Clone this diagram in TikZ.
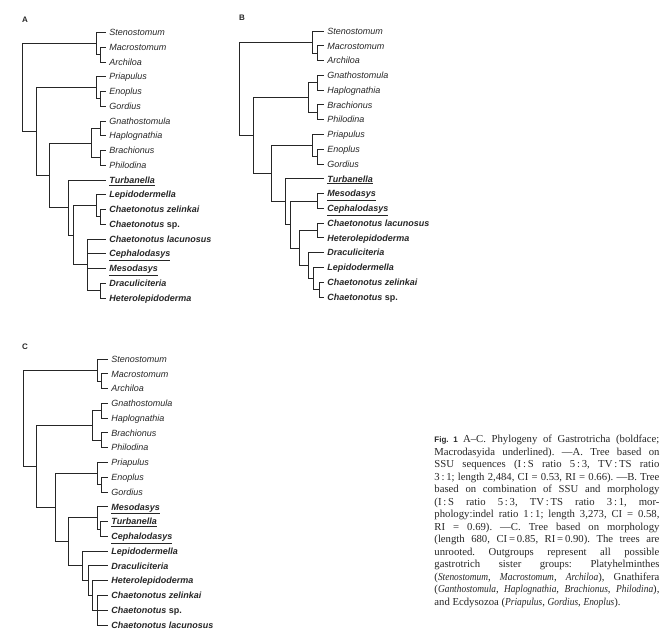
\documentclass[tikz,border=0pt]{standalone}
\usepackage{fontspec}
\setmainfont{Liberation Serif}
\setsansfont{Liberation Sans}
\newfontfamily\capitfont{Liberation Serif}[FakeStretch=0.88]
\usepackage{tikz}
\usetikzlibrary{positioning,calc}

\newcommand{\outg}[1]{\textit{#1}}
\newcommand{\gast}[1]{\textbf{\textit{#1}}}
\newcommand{\macr}[1]{\underline{\textbf{\textit{#1}}}}
\newcommand{\capit}[1]{{\capitfont\itshape #1}}

\begin{document}
\begin{tikzpicture}[x=1pt, y=-1pt,
    leaf/.style={anchor=west, inner xsep=3pt, inner ysep=0pt, text height=6.5pt, text depth=0pt,
                 font=\sffamily\fontsize{9}{10}\selectfont},
    panel/.style={font=\sffamily\bfseries\fontsize{8}{10}\selectfont, inner sep=0pt},
    every path/.style={line width=0.9pt, black!85}]
    \useasboundingbox (0,0) rectangle (661,644);

    % Tree A
    \node[panel] (la) at (25,20) {A};
    \node[leaf] (a1) at (106,32.5) {\outg{Stenostomum}};
    \node[leaf] (a2) at (106,47.25) {\outg{Macrostomum}};
    \node[leaf] (a3) at (106,62) {\outg{Archiloa}};
    \node[leaf] (a4) at (106,76.75) {\outg{Priapulus}};
    \node[leaf] (a5) at (106,91.5) {\outg{Enoplus}};
    \node[leaf] (a6) at (106,106.25) {\outg{Gordius}};
    \node[leaf] (a7) at (106,121) {\outg{Gnathostomula}};
    \node[leaf] (a8) at (106,135.75) {\outg{Haplognathia}};
    \node[leaf] (a9) at (106,150.5) {\outg{Brachionus}};
    \node[leaf] (a10) at (106,165.25) {\outg{Philodina}};
    \node[leaf] (a11) at (106,180) {\macr{Turbanella}};
    \node[leaf] (a12) at (106,194.75) {\gast{Lepidodermella}};
    \node[leaf] (a13) at (106,209.5) {\gast{Chaetonotus zelinkai}};
    \node[leaf] (a14) at (106,224.25) {\gast{Chaetonotus} \textbf{sp.}};
    \node[leaf] (a15) at (106,239) {\gast{Chaetonotus lacunosus}};
    \node[leaf] (a16) at (106,253.75) {\macr{Cephalodasys}};
    \node[leaf] (a17) at (106,268.5) {\macr{Mesodasys}};
    \node[leaf] (a18) at (106,283.25) {\gast{Draculiciteria}};
    \node[leaf] (a19) at (106,298) {\gast{Heterolepidoderma}};

    \coordinate (aMA) at (100,54.6);
    \coordinate (aPL) at (96,43.6);
    \coordinate (aEG) at (100,98.9);
    \coordinate (aEC) at (96,87.8);
    \coordinate (aGH) at (100,128.4);
    \coordinate (aBP) at (100,157.9);
    \coordinate (aGN) at (91,143.1);
    \coordinate (aCC) at (100,216.9);
    \coordinate (aLC) at (96,205.8);
    \coordinate (aDH) at (100,290.6);
    \coordinate (aPO) at (87,264.8);
    \coordinate (aCH) at (73,235.3);
    \coordinate (aGA) at (68,207.6);
    \coordinate (aGG) at (49,175.4);
    \coordinate (aEX) at (36,131.6);
    \coordinate (aRT) at (22,87.6);

    \draw (aRT) |- (aPL) (aRT) |- (aEX);
    \draw (aPL) |- (a1.west) (aPL) |- (aMA);
    \draw (aMA) |- (a2.west) (aMA) |- (a3.west);
    \draw (aEX) |- (aEC) (aEX) |- (aGG);
    \draw (aEC) |- (a4.west) (aEC) |- (aEG);
    \draw (aEG) |- (a5.west) (aEG) |- (a6.west);
    \draw (aGG) |- (aGN) (aGG) |- (aGA);
    \draw (aGN) |- (aGH) (aGN) |- (aBP);
    \draw (aGH) |- (a7.west) (aGH) |- (a8.west);
    \draw (aBP) |- (a9.west) (aBP) |- (a10.west);
    \draw (aGA) |- (a11.west) (aGA) |- (aCH);
    \draw (aCH) |- (aLC) (aCH) |- (aPO);
    \draw (aLC) |- (a12.west) (aLC) |- (aCC);
    \draw (aCC) |- (a13.west) (aCC) |- (a14.west);
    \draw (aPO) |- (a15.west) (aPO) |- (a16.west) (aPO) |- (a17.west) (aPO) |- (aDH);
    \draw (aDH) |- (a18.west) (aDH) |- (a19.west);

    % Tree B
    \node[panel] (lb) at (242,18) {B};
    \node[leaf] (b1) at (324,31) {\outg{Stenostomum}};
    \node[leaf] (b2) at (324,45.8) {\outg{Macrostomum}};
    \node[leaf] (b3) at (324,60.6) {\outg{Archiloa}};
    \node[leaf] (b4) at (324,75.3) {\outg{Gnathostomula}};
    \node[leaf] (b5) at (324,90.1) {\outg{Haplognathia}};
    \node[leaf] (b6) at (324,104.9) {\outg{Brachionus}};
    \node[leaf] (b7) at (324,119.7) {\outg{Philodina}};
    \node[leaf] (b8) at (324,134.5) {\outg{Priapulus}};
    \node[leaf] (b9) at (324,149.2) {\outg{Enoplus}};
    \node[leaf] (b10) at (324,164) {\outg{Gordius}};
    \node[leaf] (b11) at (324,178.8) {\macr{Turbanella}};
    \node[leaf] (b12) at (324,193.6) {\macr{Mesodasys}};
    \node[leaf] (b13) at (324,208.4) {\macr{Cephalodasys}};
    \node[leaf] (b14) at (324,223.1) {\gast{Chaetonotus lacunosus}};
    \node[leaf] (b15) at (324,237.9) {\gast{Heterolepidoderma}};
    \node[leaf] (b16) at (324,252.7) {\gast{Draculiciteria}};
    \node[leaf] (b17) at (324,267.5) {\gast{Lepidodermella}};
    \node[leaf] (b18) at (324,282.2) {\gast{Chaetonotus zelinkai}};
    \node[leaf] (b19) at (324,297) {\gast{Chaetonotus} \textbf{sp.}};

    \coordinate (bMA) at (317,53.2);
    \coordinate (bPL) at (312,42.1);
    \coordinate (bGH) at (317,82.7);
    \coordinate (bBP) at (317,112.3);
    \coordinate (bGN) at (308,97.5);
    \coordinate (bEG) at (317,156.6);
    \coordinate (bEC) at (312,145.6);
    \coordinate (bMC) at (317,201);
    \coordinate (bCH) at (317,230.5);
    \coordinate (bCZ) at (319,289.6);
    \coordinate (bLZ) at (313,278.6);
    \coordinate (bDL) at (308,265.6);
    \coordinate (bCD) at (299,248.1);
    \coordinate (bCL) at (290,224.6);
    \coordinate (bGA) at (285,201.7);
    \coordinate (bEX) at (271,173.6);
    \coordinate (bGE) at (253,135.6);
    \coordinate (bRT) at (239,88.8);

    \draw (bRT) |- (bPL) (bRT) |- (bGE);
    \draw (bPL) |- (b1.west) (bPL) |- (bMA);
    \draw (bMA) |- (b2.west) (bMA) |- (b3.west);
    \draw (bGE) |- (bGN) (bGE) |- (bEX);
    \draw (bGN) |- (bGH) (bGN) |- (bBP);
    \draw (bGH) |- (b4.west) (bGH) |- (b5.west);
    \draw (bBP) |- (b6.west) (bBP) |- (b7.west);
    \draw (bEX) |- (bEC) (bEX) |- (bGA);
    \draw (bEC) |- (b8.west) (bEC) |- (bEG);
    \draw (bEG) |- (b9.west) (bEG) |- (b10.west);
    \draw (bGA) |- (b11.west) (bGA) |- (bCL);
    \draw (bCL) |- (bMC) (bCL) |- (bCD);
    \draw (bMC) |- (b12.west) (bMC) |- (b13.west);
    \draw (bCD) |- (bCH) (bCD) |- (bDL);
    \draw (bCH) |- (b14.west) (bCH) |- (b15.west);
    \draw (bDL) |- (b16.west) (bDL) |- (bLZ);
    \draw (bLZ) |- (b17.west) (bLZ) |- (bCZ);
    \draw (bCZ) |- (b18.west) (bCZ) |- (b19.west);

    % Tree C
    \node[panel] (lc) at (25,347) {C};
    \node[leaf] (c1) at (108,359) {\outg{Stenostomum}};
    \node[leaf] (c2) at (108,373.8) {\outg{Macrostomum}};
    \node[leaf] (c3) at (108,388.6) {\outg{Archiloa}};
    \node[leaf] (c4) at (108,403.3) {\outg{Gnathostomula}};
    \node[leaf] (c5) at (108,418.1) {\outg{Haplognathia}};
    \node[leaf] (c6) at (108,432.9) {\outg{Brachionus}};
    \node[leaf] (c7) at (108,447.7) {\outg{Philodina}};
    \node[leaf] (c8) at (108,462.5) {\outg{Priapulus}};
    \node[leaf] (c9) at (108,477.2) {\outg{Enoplus}};
    \node[leaf] (c10) at (108,492) {\outg{Gordius}};
    \node[leaf] (c11) at (108,506.8) {\macr{Mesodasys}};
    \node[leaf] (c12) at (108,521.6) {\macr{Turbanella}};
    \node[leaf] (c13) at (108,536.4) {\macr{Cephalodasys}};
    \node[leaf] (c14) at (108,551.1) {\gast{Lepidodermella}};
    \node[leaf] (c15) at (108,565.9) {\gast{Draculiciteria}};
    \node[leaf] (c16) at (108,580.7) {\gast{Heterolepidoderma}};
    \node[leaf] (c17) at (108,595.5) {\gast{Chaetonotus zelinkai}};
    \node[leaf] (c18) at (108,610.3) {\gast{Chaetonotus} \textbf{sp.}};
    \node[leaf] (c19) at (108,625) {\gast{Chaetonotus lacunosus}};

    \coordinate (cMA) at (101,381.2);
    \coordinate (cPL) at (97,370.1);
    \coordinate (cGH) at (101,410.7);
    \coordinate (cBP) at (101,440.3);
    \coordinate (cGN) at (92,425.5);
    \coordinate (cEG) at (101,484.6);
    \coordinate (cEC) at (97,473.6);
    \coordinate (cTC) at (100,529);
    \coordinate (cMD) at (97,517.9);
    \coordinate (cPO) at (97,610.3);
    \coordinate (cHP) at (92,595.5);
    \coordinate (cDH) at (88,580.7);
    \coordinate (cLD) at (82,565.9);
    \coordinate (cCH) at (68,541.9);
    \coordinate (cEX) at (55,507.8);
    \coordinate (cGE) at (36,466.6);
    \coordinate (cRT) at (23,418.4);

    \draw (cRT) |- (cPL) (cRT) |- (cGE);
    \draw (cPL) |- (c1.west) (cPL) |- (cMA);
    \draw (cMA) |- (c2.west) (cMA) |- (c3.west);
    \draw (cGE) |- (cGN) (cGE) |- (cEX);
    \draw (cGN) |- (cGH) (cGN) |- (cBP);
    \draw (cGH) |- (c4.west) (cGH) |- (c5.west);
    \draw (cBP) |- (c6.west) (cBP) |- (c7.west);
    \draw (cEX) |- (cEC) (cEX) |- (cCH);
    \draw (cEC) |- (c8.west) (cEC) |- (cEG);
    \draw (cEG) |- (c9.west) (cEG) |- (c10.west);
    \draw (cCH) |- (cMD) (cCH) |- (cLD);
    \draw (cMD) |- (c11.west) (cMD) |- (cTC);
    \draw (cTC) |- (c12.west) (cTC) |- (c13.west);
    \draw (cLD) |- (c14.west) (cLD) |- (cDH);
    \draw (cDH) |- (c15.west) (cDH) |- (cHP);
    \draw (cHP) |- (c16.west) (cHP) |- (cPO);
    \draw (cPO) |- (c17.west) (cPO) |- (c18.west) (cPO) |- (c19.west);

    % Caption
    \node[anchor=north west, inner sep=0pt, text width=225pt, align=justify,
          font=\fontsize{10.7}{12.5}\selectfont] (cap) at (434,435) {%
      \hyphenpenalty=10000\relax\frenchspacing
      {\sffamily\bfseries\fontsize{8}{10}\selectfont Fig.~1}\enspace A--C. Phylogeny of Gastrotricha (boldface;\linebreak
      Macrodasyida underlined). ---A. Tree based on\linebreak
      SSU sequences (I\,:\,S ratio 5\,:\,3, TV\,:\,TS ratio\linebreak
      3\,:\,1; length 2,484, CI = 0.53, RI = 0.66). ---B. Tree\linebreak
      based on combination of SSU and morphology\linebreak
      (I\,:\,S ratio 5\,:\,3, TV\,:\,TS ratio 3\,:\,1, mor-\linebreak
      phology:indel ratio 1\,:\,1; length 3,273, CI = 0.58,\linebreak
      RI = 0.69). ---C. Tree based on morphology\linebreak
      (length 680, CI\,=\,0.85, RI\,=\,0.90). The trees are\linebreak
      unrooted. Outgroups represent all possible\linebreak
      gastrotrich sister groups: Platyhelminthes\linebreak
      (\capit{Stenostomum}, \capit{Macrostomum}, \capit{Archiloa}), Gnathifera\linebreak
      (\capit{Ganthostomula}, \capit{Haplognathia}, \capit{Brachionus}, \capit{Philodina}),\linebreak
      and Ecdysozoa (\capit{Priapulus}, \capit{Gordius}, \capit{Enoplus}).};
\end{tikzpicture}
\end{document}
